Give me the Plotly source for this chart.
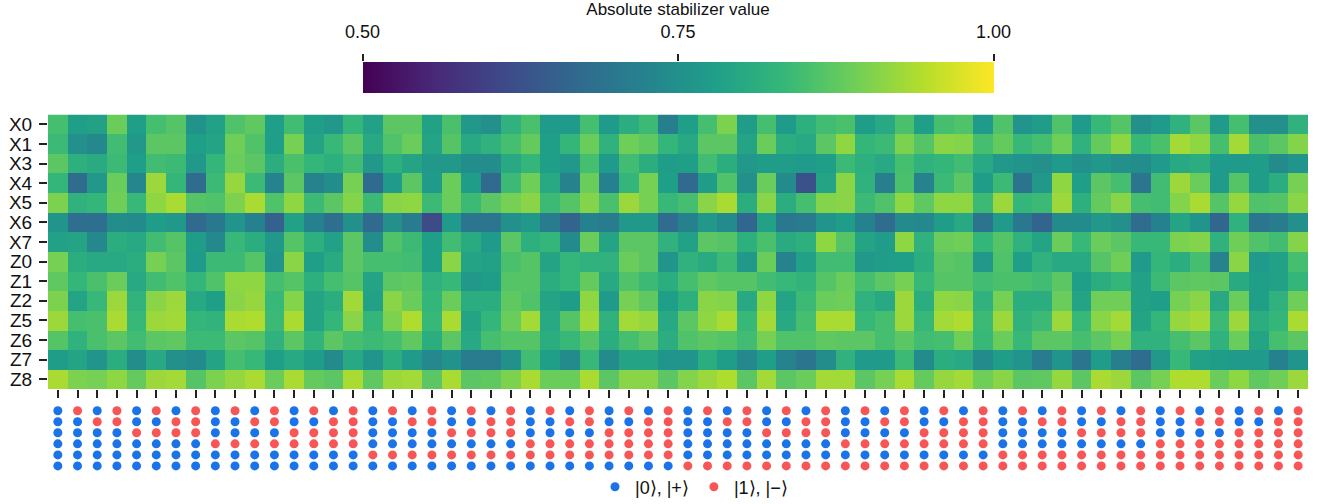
import plotly.graph_objects as go

rows = ["X0", "X1", "X3", "X4", "X5", "X6", "X7", "Z0", "Z1", "Z2", "Z5", "Z6", "Z7", "Z8"]

# bitstrings per column, top row first
states = [
    "000000", "100000", "010000", "110000", "001000", "101000", "011000", "111000",
    "000100", "100100", "010100", "110100", "001100", "101100", "011100", "111100",
    "000010", "100010", "010010", "110010", "001010", "101010", "011010", "111010",
    "000110", "100110", "010110", "110110", "001110", "101110", "011110", "111110",
    "000001", "100001", "010001", "110001", "001001", "101001", "011001", "111001",
    "000101", "100101", "010101", "110101", "001101", "101101", "011101", "111101",
    "000011", "100011", "010011", "110011", "001011", "101011", "011011", "111011",
    "000111", "100111", "010111", "110111", "001111", "101111", "011111", "111111",
]

X0 = [0.85, 0.78, 0.785, 0.885, 0.78, 0.85, 0.865, 0.755, 0.785, 0.86, 0.875, 0.78, 0.845, 0.78, 0.765, 0.83,
      0.785, 0.87, 0.87, 0.785, 0.855, 0.765, 0.75, 0.82, 0.855, 0.77, 0.77, 0.85, 0.77, 0.81, 0.84, 0.715,
      0.78, 0.85, 0.9, 0.775, 0.85, 0.77, 0.815, 0.845, 0.855, 0.775, 0.80, 0.855, 0.78, 0.85, 0.86, 0.77,
      0.86, 0.76, 0.775, 0.86, 0.77, 0.835, 0.865, 0.75, 0.77, 0.82, 0.87, 0.77, 0.85, 0.75, 0.75, 0.82]
X1 = [0.84, 0.75, 0.735, 0.845, 0.765, 0.87, 0.87, 0.78, 0.79, 0.89, 0.86, 0.78, 0.895, 0.79, 0.835, 0.87,
      0.80, 0.86, 0.885, 0.79, 0.865, 0.80, 0.82, 0.85, 0.88, 0.78, 0.83, 0.885, 0.82, 0.89, 0.875, 0.83,
      0.80, 0.87, 0.87, 0.79, 0.885, 0.81, 0.80, 0.87, 0.915, 0.83, 0.84, 0.9, 0.865, 0.91, 0.905, 0.85,
      0.88, 0.835, 0.85, 0.89, 0.82, 0.88, 0.915, 0.835, 0.855, 0.93, 0.915, 0.85, 0.93, 0.855, 0.87, 0.905]
X3 = [0.87, 0.815, 0.805, 0.84, 0.78, 0.845, 0.84, 0.765, 0.83, 0.885, 0.87, 0.81, 0.855, 0.83, 0.815, 0.845,
      0.765, 0.815, 0.79, 0.765, 0.765, 0.745, 0.745, 0.80, 0.83, 0.78, 0.765, 0.85, 0.77, 0.845, 0.81, 0.775,
      0.78, 0.845, 0.81, 0.765, 0.775, 0.775, 0.77, 0.78, 0.84, 0.815, 0.80, 0.85, 0.82, 0.83, 0.845, 0.80,
      0.765, 0.76, 0.75, 0.77, 0.75, 0.765, 0.75, 0.745, 0.77, 0.80, 0.81, 0.77, 0.77, 0.775, 0.74, 0.76]
X4 = [0.83, 0.675, 0.765, 0.885, 0.73, 0.925, 0.83, 0.675, 0.84, 0.92, 0.84, 0.725, 0.87, 0.725, 0.745, 0.895,
      0.67, 0.77, 0.87, 0.77, 0.885, 0.775, 0.67, 0.84, 0.89, 0.80, 0.725, 0.885, 0.72, 0.83, 0.895, 0.78,
      0.67, 0.775, 0.86, 0.75, 0.885, 0.74, 0.625, 0.79, 0.91, 0.82, 0.715, 0.855, 0.725, 0.84, 0.87, 0.775,
      0.84, 0.69, 0.765, 0.915, 0.78, 0.87, 0.85, 0.695, 0.845, 0.925, 0.885, 0.77, 0.865, 0.775, 0.81, 0.895]
X5 = [0.90, 0.82, 0.83, 0.89, 0.835, 0.915, 0.935, 0.865, 0.86, 0.90, 0.935, 0.86, 0.915, 0.84, 0.87, 0.905,
      0.84, 0.91, 0.915, 0.84, 0.885, 0.84, 0.87, 0.895, 0.91, 0.84, 0.865, 0.905, 0.855, 0.925, 0.895, 0.835,
      0.85, 0.91, 0.935, 0.81, 0.91, 0.81, 0.85, 0.905, 0.91, 0.84, 0.86, 0.915, 0.875, 0.915, 0.915, 0.84,
      0.925, 0.83, 0.84, 0.925, 0.815, 0.88, 0.91, 0.85, 0.845, 0.905, 0.935, 0.865, 0.92, 0.86, 0.865, 0.91]
X6 = [0.76, 0.68, 0.68, 0.745, 0.74, 0.775, 0.765, 0.67, 0.70, 0.76, 0.72, 0.655, 0.785, 0.72, 0.68, 0.75,
      0.67, 0.75, 0.71, 0.615, 0.77, 0.695, 0.695, 0.75, 0.765, 0.71, 0.66, 0.72, 0.71, 0.765, 0.765, 0.675,
      0.72, 0.765, 0.74, 0.665, 0.785, 0.70, 0.71, 0.76, 0.775, 0.72, 0.675, 0.74, 0.735, 0.775, 0.80, 0.69,
      0.77, 0.70, 0.66, 0.74, 0.74, 0.765, 0.75, 0.675, 0.72, 0.79, 0.76, 0.665, 0.82, 0.695, 0.71, 0.75]
X7 = [0.785, 0.79, 0.735, 0.81, 0.80, 0.845, 0.865, 0.775, 0.735, 0.835, 0.81, 0.765, 0.865, 0.815, 0.785, 0.87,
      0.745, 0.86, 0.84, 0.78, 0.845, 0.805, 0.77, 0.87, 0.815, 0.83, 0.74, 0.885, 0.79, 0.87, 0.87, 0.82,
      0.785, 0.87, 0.865, 0.815, 0.855, 0.805, 0.815, 0.915, 0.865, 0.79, 0.775, 0.915, 0.82, 0.885, 0.89, 0.83,
      0.865, 0.82, 0.79, 0.885, 0.835, 0.885, 0.87, 0.835, 0.835, 0.90, 0.905, 0.82, 0.89, 0.86, 0.845, 0.905]
Z0 = [0.895, 0.81, 0.80, 0.80, 0.81, 0.895, 0.87, 0.77, 0.84, 0.84, 0.865, 0.76, 0.91, 0.78, 0.805, 0.87,
      0.85, 0.85, 0.845, 0.78, 0.91, 0.79, 0.785, 0.855, 0.865, 0.79, 0.83, 0.82, 0.82, 0.885, 0.87, 0.76,
      0.82, 0.805, 0.84, 0.765, 0.885, 0.725, 0.785, 0.845, 0.845, 0.765, 0.775, 0.78, 0.81, 0.87, 0.865, 0.765,
      0.86, 0.78, 0.82, 0.80, 0.80, 0.865, 0.89, 0.77, 0.83, 0.81, 0.85, 0.725, 0.91, 0.77, 0.785, 0.85]
Z1 = [0.875, 0.83, 0.855, 0.885, 0.80, 0.845, 0.86, 0.83, 0.86, 0.915, 0.915, 0.85, 0.865, 0.815, 0.85, 0.865,
      0.79, 0.87, 0.875, 0.82, 0.835, 0.765, 0.775, 0.865, 0.865, 0.81, 0.83, 0.88, 0.80, 0.86, 0.84, 0.81,
      0.85, 0.875, 0.865, 0.865, 0.845, 0.835, 0.825, 0.865, 0.885, 0.85, 0.87, 0.895, 0.835, 0.865, 0.865, 0.845,
      0.855, 0.855, 0.845, 0.87, 0.78, 0.81, 0.83, 0.785, 0.84, 0.87, 0.875, 0.87, 0.805, 0.78, 0.785, 0.83]
Z2 = [0.90, 0.79, 0.835, 0.925, 0.825, 0.91, 0.925, 0.80, 0.78, 0.91, 0.92, 0.835, 0.905, 0.79, 0.81, 0.928,
      0.785, 0.91, 0.885, 0.83, 0.885, 0.81, 0.81, 0.875, 0.86, 0.79, 0.775, 0.915, 0.77, 0.895, 0.875, 0.78,
      0.815, 0.91, 0.905, 0.80, 0.915, 0.79, 0.84, 0.885, 0.89, 0.82, 0.80, 0.925, 0.81, 0.915, 0.91, 0.82,
      0.895, 0.81, 0.81, 0.885, 0.79, 0.89, 0.89, 0.785, 0.78, 0.895, 0.91, 0.80, 0.885, 0.78, 0.82, 0.89]
Z5 = [0.925, 0.85, 0.855, 0.935, 0.835, 0.925, 0.928, 0.83, 0.825, 0.935, 0.94, 0.84, 0.935, 0.79, 0.83, 0.91,
      0.83, 0.90, 0.94, 0.835, 0.935, 0.79, 0.83, 0.885, 0.93, 0.80, 0.865, 0.928, 0.82, 0.93, 0.92, 0.80,
      0.87, 0.915, 0.935, 0.835, 0.93, 0.80, 0.85, 0.935, 0.935, 0.835, 0.85, 0.925, 0.835, 0.93, 0.94, 0.84,
      0.925, 0.82, 0.84, 0.925, 0.835, 0.91, 0.93, 0.79, 0.83, 0.92, 0.93, 0.84, 0.925, 0.81, 0.83, 0.935]
Z6 = [0.865, 0.82, 0.855, 0.87, 0.845, 0.87, 0.875, 0.84, 0.84, 0.87, 0.865, 0.82, 0.87, 0.825, 0.87, 0.85,
      0.84, 0.85, 0.875, 0.81, 0.87, 0.80, 0.85, 0.865, 0.865, 0.81, 0.835, 0.865, 0.81, 0.85, 0.87, 0.81,
      0.86, 0.87, 0.865, 0.845, 0.895, 0.86, 0.86, 0.875, 0.87, 0.87, 0.85, 0.87, 0.845, 0.85, 0.89, 0.835,
      0.885, 0.835, 0.87, 0.87, 0.85, 0.87, 0.895, 0.82, 0.82, 0.85, 0.87, 0.82, 0.885, 0.79, 0.85, 0.87]
Z7 = [0.775, 0.79, 0.76, 0.81, 0.745, 0.80, 0.75, 0.74, 0.79, 0.85, 0.835, 0.78, 0.80, 0.775, 0.74, 0.80,
      0.76, 0.81, 0.77, 0.735, 0.755, 0.71, 0.71, 0.75, 0.845, 0.78, 0.74, 0.835, 0.74, 0.79, 0.79, 0.76,
      0.76, 0.81, 0.775, 0.735, 0.78, 0.725, 0.695, 0.745, 0.82, 0.77, 0.77, 0.84, 0.74, 0.81, 0.80, 0.74,
      0.775, 0.76, 0.71, 0.76, 0.695, 0.775, 0.715, 0.675, 0.765, 0.835, 0.785, 0.775, 0.77, 0.77, 0.72, 0.76]
Z8 = [0.935, 0.90, 0.895, 0.915, 0.88, 0.925, 0.93, 0.865, 0.90, 0.92, 0.935, 0.885, 0.935, 0.88, 0.87, 0.935,
      0.875, 0.925, 0.93, 0.87, 0.935, 0.87, 0.875, 0.90, 0.935, 0.885, 0.885, 0.935, 0.87, 0.91, 0.91, 0.87,
      0.905, 0.925, 0.94, 0.87, 0.93, 0.87, 0.885, 0.93, 0.93, 0.87, 0.895, 0.935, 0.88, 0.92, 0.93, 0.89,
      0.91, 0.87, 0.875, 0.92, 0.87, 0.935, 0.925, 0.87, 0.895, 0.94, 0.94, 0.885, 0.915, 0.875, 0.89, 0.925]

values = [X0, X1, X3, X4, X5, X6, X7, Z0, Z1, Z2, Z5, Z6, Z7, Z8]

cb_range = [0.5, 1.0]
cb_ticks = [0.5, 0.75, 1.0]
cb_ticktext = ["0.50", "0.75", "1.00"]
cb_title = "Absolute stabilizer value"

legend_names = ["|0⟩, |+⟩", "|1⟩, |−⟩"]
dot_colors = ["#1a73e8", "#f85656"]

ncol = len(states)
cols = list(range(ncol))

FONT = "Liberation Sans, Arial, sans-serif"
TXT = "#111"

# pixel layout (figure 1325 x 504)
W, H = 1325, 504
ML, MR = 48, 17
plot_bottom = 474          # plot area spans y = 0 .. 474
ph = plot_bottom
hm_top_px, hm_bottom_px = 114.5, 389
dots_top_px = 404
cb_left_px, cb_right_px = 362.5, 993.5
cb_top_px, cb_bottom_px = 62, 93
pw = W - ML - MR


def py(px):
    return (plot_bottom - px) / ph


def pxx(px):
    return (px - ML) / pw


fig = go.Figure()

fig.add_trace(go.Heatmap(
    z=values, x=cols, y=rows,
    colorscale="Viridis", zmin=cb_range[0], zmax=cb_range[1],
    xaxis="x", yaxis="y",
    colorbar=dict(
        orientation="h",
        x=pxx((cb_left_px + cb_right_px) / 2), xanchor="center",
        y=py(cb_bottom_px), yanchor="bottom",
        len=cb_right_px - cb_left_px, lenmode="pixels",
        thickness=cb_bottom_px - cb_top_px, thicknessmode="pixels",
        xpad=0, ypad=0, outlinewidth=0,
        ticks="", showticklabels=False,
    ),
    showscale=True,
))

for bit in (0, 1):
    xs, ys = [], []
    for c, s in enumerate(states):
        for r, ch in enumerate(s):
            if int(ch) == bit:
                xs.append(c)
                ys.append(r)
    fig.add_trace(go.Scatter(
        x=xs, y=ys, mode="markers",
        marker=dict(size=9, color=dot_colors[bit], line=dict(width=0)),
        name=legend_names[bit],
        xaxis="x2", yaxis="y2",
        showlegend=True,
    ))

# axis carrying the colorbar ticks (above the bar)
fig.add_trace(go.Scatter(x=[], y=[], xaxis="x3", yaxis="y3", showlegend=False, hoverinfo="skip"))

fig.update_layout(
    width=W, height=H,
    margin=dict(l=ML, r=MR, t=0, b=H - plot_bottom, autoexpand=False),
    paper_bgcolor="white", plot_bgcolor="white",
    font=dict(family=FONT, color=TXT),
    xaxis=dict(domain=[0, 1], range=[-0.5, ncol - 0.5], tickvals=cols,
               showticklabels=False, ticks="outside", ticklen=8, tickwidth=2,
               tickcolor="#222", showgrid=False, zeroline=False, showline=False,
               anchor="y", automargin=False),
    yaxis=dict(domain=[py(hm_bottom_px), py(hm_top_px)], autorange="reversed",
               tickmode="array", tickvals=rows, ticktext=rows,
               ticks="outside", ticklen=8, tickwidth=2, tickcolor="#222",
               ticklabelstandoff=3,
               tickfont=dict(size=19, color=TXT, family=FONT),
               showgrid=False, zeroline=False, showline=False, anchor="x",
               automargin=False),
    xaxis2=dict(domain=[0, 1], range=[-0.5, ncol - 0.5], visible=False, anchor="y2"),
    yaxis2=dict(domain=[0, py(dots_top_px)], range=[5.73, -0.606],
                visible=False, anchor="x2"),
    xaxis3=dict(domain=[pxx(cb_left_px), pxx(cb_right_px)], range=cb_range,
                side="top", anchor="y3", tickmode="array", tickvals=cb_ticks,
                ticktext=cb_ticktext, ticks="outside", ticklen=7, tickwidth=2,
                tickcolor="#222", ticklabelstandoff=9,
                tickfont=dict(size=18, color=TXT, family=FONT),
                showgrid=False, zeroline=False, showline=False, automargin=False,
                title=dict(text=cb_title, font=dict(size=17, color=TXT, family=FONT),
                           standoff=3)),
    yaxis3=dict(domain=[py(cb_bottom_px), py(cb_top_px)], range=[0, 1],
                visible=False, anchor="x3"),
    legend=dict(orientation="h", x=pxx(694), xanchor="center",
                y=py(487), yanchor="middle",
                font=dict(size=18, color=TXT, family=FONT),
                bgcolor="rgba(0,0,0,0)"),
    showlegend=True,
)

fig.write_html("out.html")
